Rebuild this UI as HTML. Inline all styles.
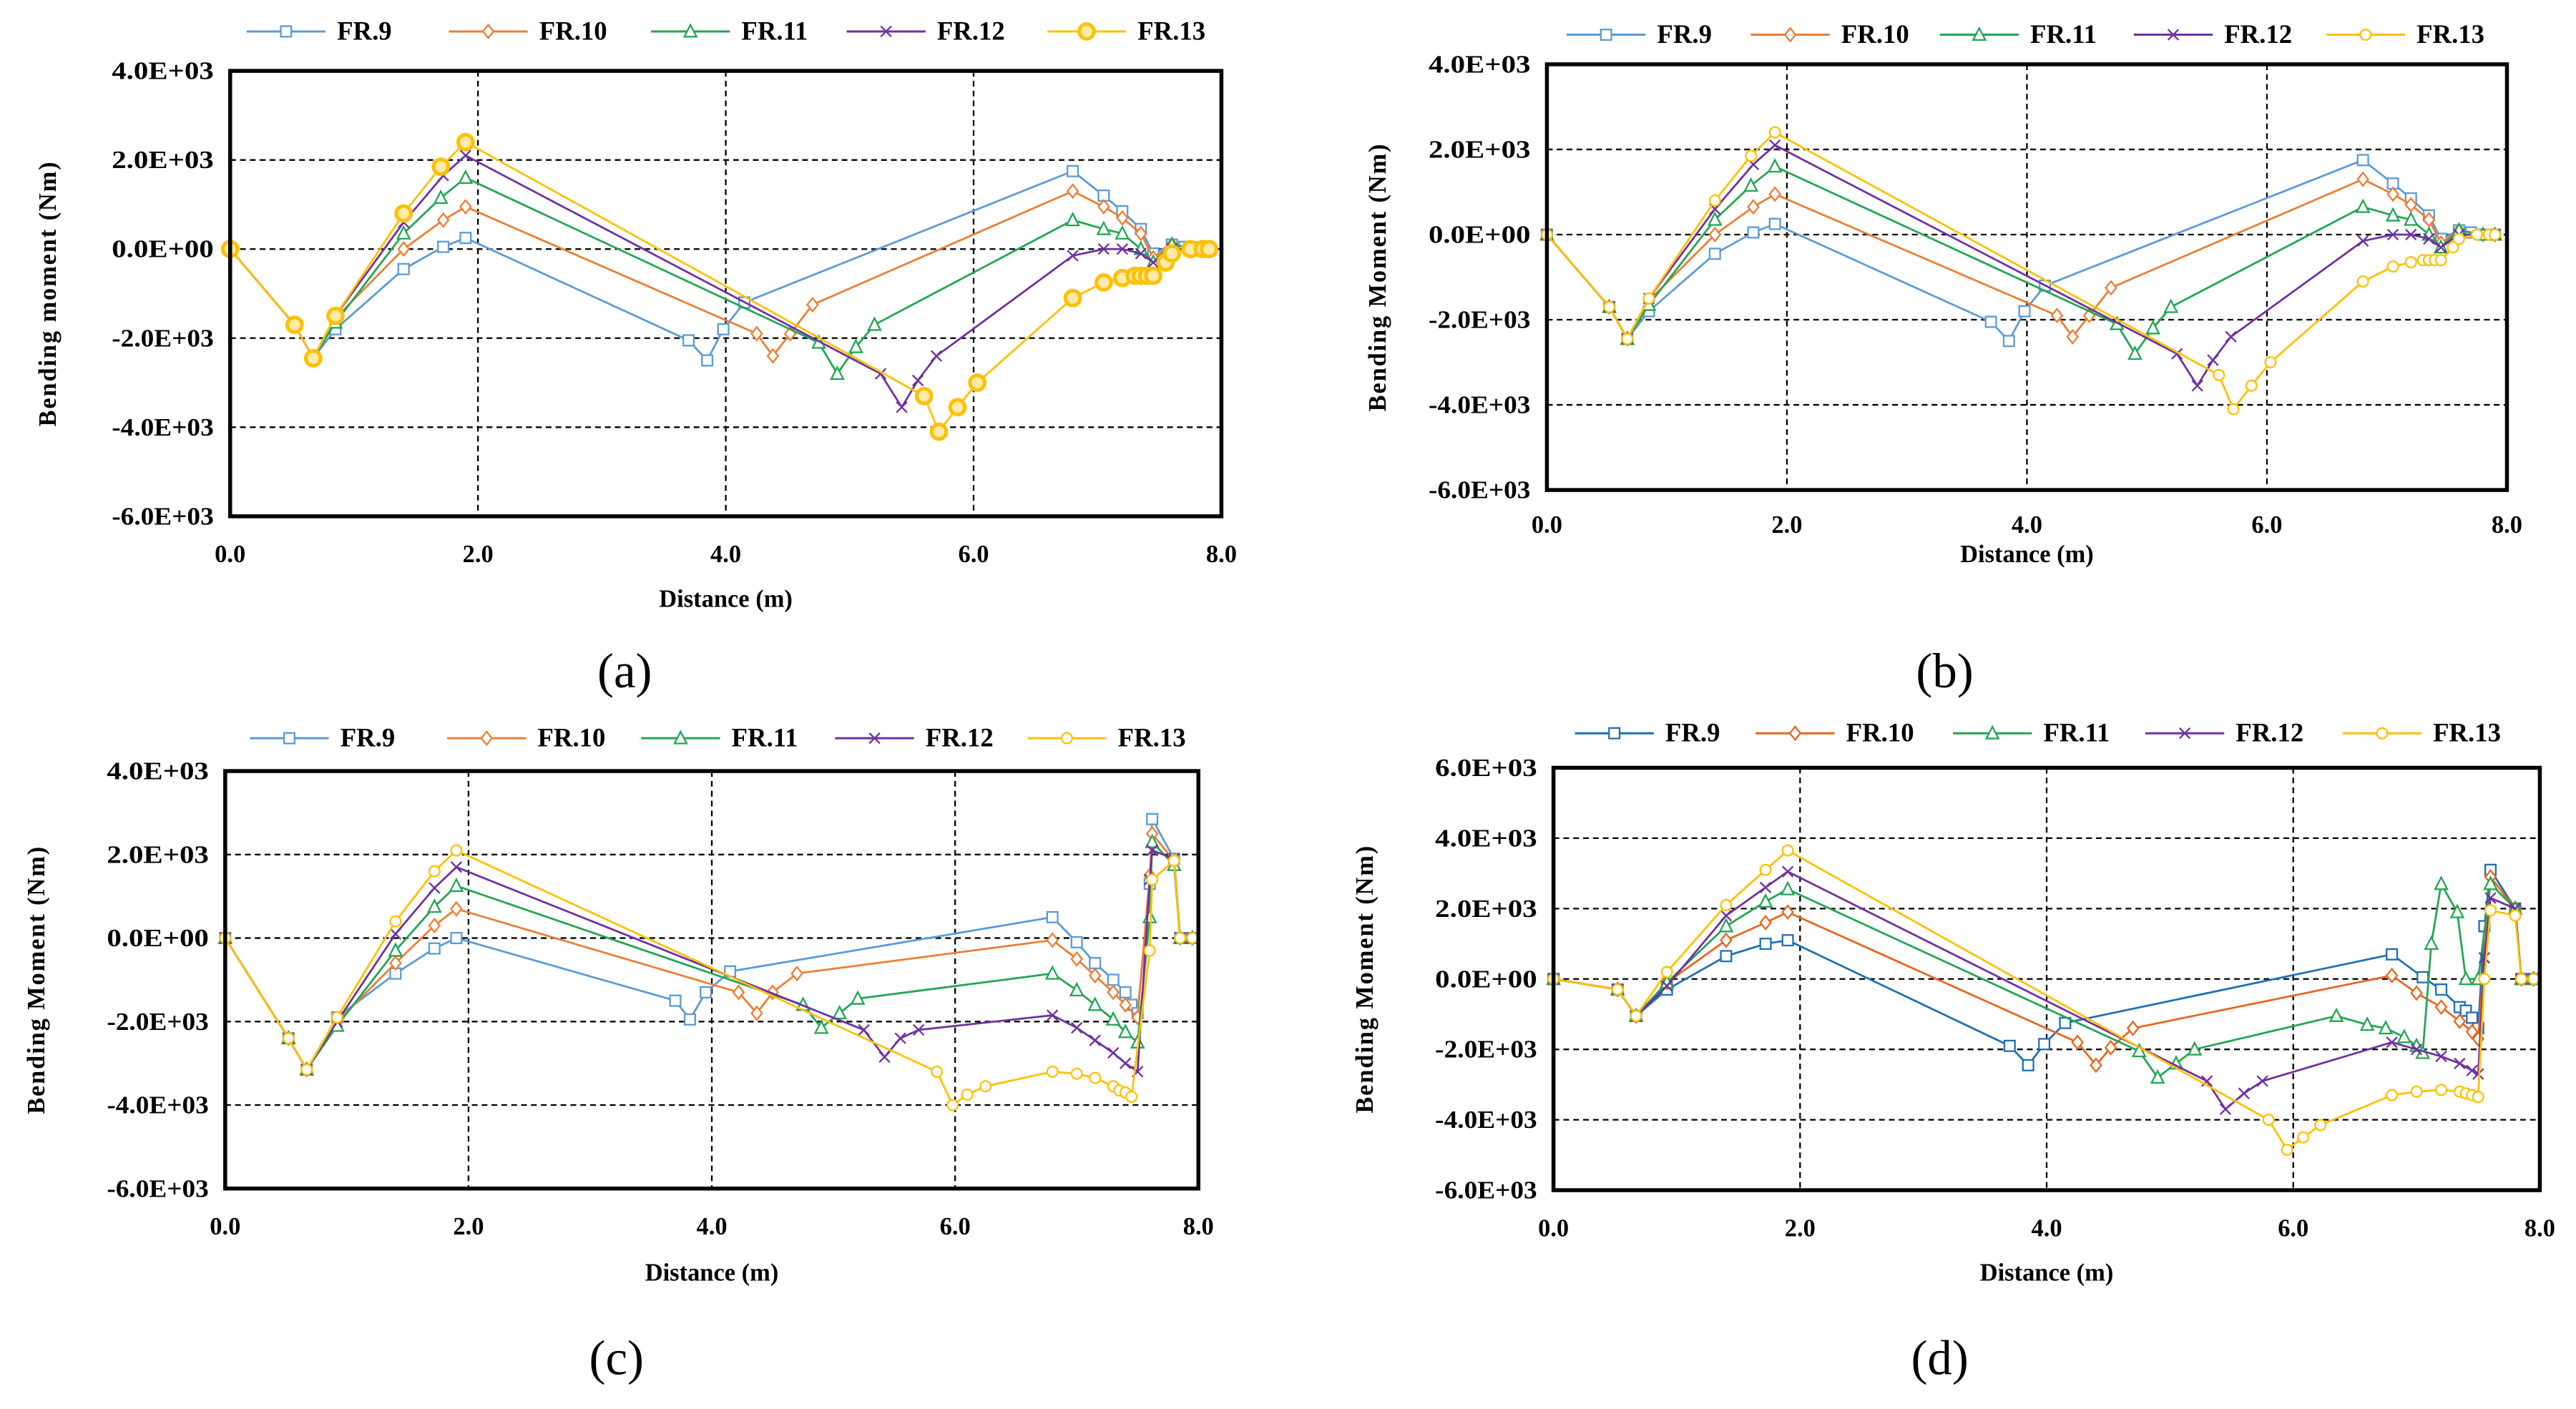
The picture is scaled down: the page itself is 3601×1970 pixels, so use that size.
<!DOCTYPE html>
<html><head><meta charset="utf-8"><style>
html,body{margin:0;padding:0;background:#fff;}
svg{display:block;}
svg text{font-family:"Liberation Serif","DejaVu Serif",serif;font-weight:bold;fill:#000;}
svg text.cap{font-weight:normal;}
</style></head><body>
<svg id="fig" width="3601" height="1970" viewBox="0 0 1567 857" xmlns="http://www.w3.org/2000/svg" font-family="Liberation Serif, serif"></svg>
<script>
// Shared x positions and series values (Nm)
const seriesNames = ["FR.9","FR.10","FR.11","FR.12","FR.13"];
const xTickLabels = ["0.0","2.0","4.0","6.0","8.0"];
const xTickValues = [0,2,4,6,8];

// Panel (a) data
const a_fr9 = [[0,0],[0.52,-1700],[0.67,-2450],[0.85,-1800],[1.4,-450],[1.72,50],[1.9,250],[3.7,-2050],[3.85,-2500],[3.98,-1800],[4.15,-1200],[6.8,1750],[7.05,1200],[7.2,850],[7.35,450],[7.45,-100],[7.6,100],[7.7,50],[7.8,0],[7.9,0]];
const a_fr10 = [[0,0],[0.52,-1700],[0.67,-2450],[0.85,-1550],[1.4,0],[1.72,650],[1.9,950],[4.25,-1900],[4.38,-2400],[4.52,-1900],[4.7,-1250],[6.8,1300],[7.05,950],[7.2,700],[7.35,350],[7.45,-200],[7.6,100],[7.8,0],[7.9,0]];
const a_fr11 = [[0,0],[0.52,-1700],[0.67,-2450],[0.85,-1650],[1.4,350],[1.7,1150],[1.9,1600],[4.75,-2100],[4.9,-2800],[5.05,-2200],[5.2,-1700],[6.8,650],[7.05,450],[7.2,350],[7.35,0],[7.45,-300],[7.6,100],[7.8,0],[7.9,0]];
const a_fr12 = [[0,0],[0.52,-1700],[0.67,-2450],[0.85,-1500],[1.4,600],[1.72,1650],[1.9,2100],[5.25,-2800],[5.42,-3550],[5.55,-2950],[5.7,-2400],[6.8,-150],[7.05,0],[7.2,0],[7.35,-100],[7.45,-300],[7.6,0],[7.8,0],[7.9,0]];
const a_fr13 = [[0,0],[0.52,-1700],[0.67,-2450],[0.85,-1500],[1.4,800],[1.7,1850],[1.9,2400],[5.6,-3300],[5.72,-4100],[5.87,-3550],[6.03,-3000],[6.8,-1100],[7.05,-750],[7.2,-650],[7.3,-600],[7.35,-600],[7.4,-600],[7.45,-600],[7.55,-300],[7.6,-100],[7.75,0],[7.85,0],[7.9,0]];

// Panel (c) data
const c_fr9 = [[0,0],[0.52,-2400],[0.67,-3150],[0.92,-1900],[1.4,-850],[1.72,-250],[1.9,0],[3.7,-1500],[3.82,-1950],[3.95,-1300],[4.15,-800],[6.8,500],[7.0,-100],[7.15,-600],[7.3,-1000],[7.4,-1300],[7.45,-1600],[7.5,-1800],[7.6,1300],[7.62,2850],[7.8,1900],[7.85,0],[7.95,0]];
const c_fr10 = [[0,0],[0.52,-2400],[0.67,-3150],[0.92,-2000],[1.4,-600],[1.72,300],[1.9,700],[4.22,-1300],[4.37,-1800],[4.5,-1300],[4.7,-850],[6.8,-50],[7.0,-500],[7.15,-900],[7.3,-1300],[7.4,-1600],[7.5,-1900],[7.6,1500],[7.62,2500],[7.8,1850],[7.85,0],[7.95,0]];
const c_fr11 = [[0,0],[0.52,-2400],[0.67,-3150],[0.92,-2100],[1.4,-300],[1.72,750],[1.9,1250],[4.75,-1600],[4.9,-2150],[5.05,-1800],[5.2,-1450],[6.8,-850],[7.0,-1250],[7.15,-1600],[7.3,-1950],[7.4,-2250],[7.5,-2500],[7.6,500],[7.62,2300],[7.8,1750],[7.85,0],[7.95,0]];
const c_fr12 = [[0,0],[0.52,-2400],[0.67,-3150],[0.92,-2000],[1.4,100],[1.72,1200],[1.9,1700],[5.25,-2200],[5.42,-2850],[5.55,-2400],[5.7,-2200],[6.8,-1850],[7.0,-2150],[7.15,-2450],[7.3,-2750],[7.4,-3000],[7.5,-3200],[7.6,1400],[7.62,2100],[7.8,1900],[7.85,0],[7.95,0]];
const c_fr13 = [[0,0],[0.52,-2400],[0.67,-3150],[0.92,-1900],[1.4,400],[1.72,1600],[1.9,2100],[5.85,-3200],[5.98,-4000],[6.1,-3750],[6.25,-3550],[6.8,-3200],[7.0,-3250],[7.15,-3350],[7.3,-3550],[7.35,-3650],[7.4,-3700],[7.45,-3800],[7.6,-300],[7.62,1400],[7.8,1850],[7.85,0],[7.95,0]];

// Panel (d) data
const d_fr9 = [[0,0],[0.52,-300],[0.67,-1050],[0.92,-300],[1.4,650],[1.72,1000],[1.9,1100],[3.7,-1900],[3.85,-2450],[3.98,-1850],[4.15,-1250],[6.8,700],[7.05,50],[7.2,-300],[7.35,-800],[7.4,-900],[7.45,-1100],[7.5,-1400],[7.55,1500],[7.6,3100],[7.8,2000],[7.85,0],[7.95,0]];
const d_fr10 = [[0,0],[0.52,-300],[0.67,-1050],[0.92,-100],[1.4,1100],[1.72,1600],[1.9,1900],[4.25,-1800],[4.4,-2450],[4.52,-1950],[4.7,-1400],[6.8,100],[7.0,-400],[7.2,-800],[7.35,-1200],[7.45,-1500],[7.5,-1700],[7.6,2900],[7.8,2000],[7.85,0],[7.95,0]];
const d_fr11 = [[0,0],[0.52,-300],[0.67,-1050],[0.92,-100],[1.4,1500],[1.72,2200],[1.9,2550],[4.75,-2050],[4.9,-2800],[5.05,-2400],[5.2,-2000],[6.35,-1050],[6.6,-1300],[6.75,-1400],[6.9,-1650],[7.0,-1900],[7.05,-2100],[7.12,1000],[7.2,2700],[7.33,1900],[7.4,0],[7.5,0],[7.6,2700],[7.8,2000],[7.85,0],[7.95,0]];
const d_fr12 = [[0,0],[0.52,-300],[0.67,-1050],[0.92,-200],[1.4,1800],[1.72,2600],[1.9,3050],[5.3,-2900],[5.45,-3700],[5.6,-3250],[5.75,-2900],[6.8,-1800],[7.0,-2000],[7.2,-2200],[7.35,-2400],[7.45,-2600],[7.5,-2700],[7.55,600],[7.6,2300],[7.8,2000],[7.85,0],[7.95,0]];
const d_fr13 = [[0,0],[0.52,-300],[0.67,-1050],[0.92,200],[1.4,2100],[1.72,3100],[1.9,3650],[5.8,-4000],[5.95,-4850],[6.08,-4500],[6.22,-4150],[6.8,-3300],[7.0,-3200],[7.2,-3150],[7.35,-3200],[7.4,-3250],[7.45,-3300],[7.5,-3350],[7.55,0],[7.6,1950],[7.8,1800],[7.85,0],[7.95,0]];

const yTicksA = [4000,2000,0,-2000,-4000,-6000];
const yTicksD = [6000,4000,2000,0,-2000,-4000,-6000];

const NS="http://www.w3.org/2000/svg";
const svg=document.getElementById('fig');
function mk(tag,attrs,parent){const e=document.createElementNS(NS,tag);for(const k in attrs)e.setAttribute(k,attrs[k]);(parent||svg).appendChild(e);return e;}
function fmtE(v){if(v===0)return "0.0E+00";const s=v<0?"-":"";return s+(Math.abs(v)/1000).toFixed(1)+"E+03";}

function marker(g,type,x,y,color,big){
  const r=big?4.5:3.2;let m;
  if(type===0) m=mk('rect',{x:x-r,y:y-r,width:2*r,height:2*r,fill:'#fff',stroke:color,'stroke-width':1},g);
  else if(type===1) m=mk('polygon',{points:`${x},${y-r-0.8} ${x+r},${y} ${x},${y+r+0.8} ${x-r},${y}`,fill:'#fff',stroke:color,'stroke-width':1},g);
  else if(type===2) m=mk('polygon',{points:`${x},${y-r-0.8} ${x+r+0.5},${y+r} ${x-r-0.5},${y+r}`,fill:'#fff',stroke:color,'stroke-width':1},g);
  else if(type===3) m=mk('path',{d:`M${x-r},${y-r}L${x+r},${y+r}M${x-r},${y+r}L${x+r},${y-r}`,fill:'none',stroke:color,'stroke-width':1},g);
  else m=mk('circle',{cx:x,cy:y,r:r,fill:big?'#fde9a8':'#fff',stroke:color,'stroke-width':big?2.2:1},g);
  
  
}

function panel(cfg){
  const g=mk('g',{});
  
  
  const {x0,x1,yTop,yBot,ticks}=cfg;
  const ymax=ticks[0],ymin=ticks[ticks.length-1];
  const sx=v=>x0+(v-0)/(8-0)*(x1-x0);
  const sy=v=>yTop+(ymax-v)/(ymax-ymin)*(yBot-yTop);
  ticks.forEach(t=>{if(t===ymax||t===ymin)return;const l=mk('line',{x1:x0,x2:x1,y1:sy(t),y2:sy(t),stroke:'#000','stroke-width':1,'stroke-dasharray':'3.5,2.5'},g);});
  xTickValues.forEach(t=>{if(t===0||t===8)return;const l=mk('line',{x1:sx(t),x2:sx(t),y1:yTop,y2:yBot,stroke:'#000','stroke-width':1,'stroke-dasharray':'3.5,2.5'},g);});
  cfg.series.forEach((s,i)=>{
    const sg=mk('g',{},g);
    
    
    const pl=mk('polyline',{points:s.map(p=>sx(p[0])+','+sy(p[1])).join(' '),fill:'none',stroke:cfg.colors[i],'stroke-width':1.2,'stroke-linejoin':'round'},sg);
    
    
    s.forEach(p=>marker(sg,i,sx(p[0]),sy(p[1]),cfg.colors[i],cfg.bigLast&&i===4));
  });
  const fr=mk('rect',{x:x0,y:yTop,width:x1-x0,height:yBot-yTop,fill:'none',stroke:'#000','stroke-width':2.4},g);
  
  ticks.forEach(t=>{const tx=mk('text',{x:x0-10,y:sy(t)+5,'text-anchor':'end','font-size':15,'textLength':62,'lengthAdjust':'spacingAndGlyphs'},g);tx.textContent=fmtE(t);});
  xTickValues.forEach((t,i)=>{const tx=mk('text',{x:sx(t),y:cfg.xLabY,'text-anchor':'middle','font-size':15},g);tx.textContent=xTickLabels[i];});
  const xt=mk('text',{x:(x0+x1)/2,y:cfg.xTitleY,'text-anchor':'middle','font-size':15},g);xt.textContent='Distance (m)';
  
  const yt=mk('text',{x:0,y:0,'text-anchor':'middle','font-size':15,'letter-spacing':'0.8',transform:`translate(${cfg.yTitleX},${(yTop+yBot)/2}) rotate(-90)`},g);yt.textContent=cfg.yTitle;
  
  const lg=mk('g',{},g);
  cfg.legX.forEach((lx,i)=>{
    const eg=mk('g',{},lg);
    mk('line',{x1:lx,x2:lx+48,y1:cfg.legY,y2:cfg.legY,stroke:cfg.colors[i],'stroke-width':1.3},eg);
    marker(eg,i,lx+24,cfg.legY,cfg.colors[i],cfg.bigLast&&i===4);
    const t=mk('text',{x:lx+55,y:cfg.legY+5,'font-size':16},eg);t.textContent=seriesNames[i];
  });
  const cap=mk('text',{x:cfg.capX,y:cfg.capY,'text-anchor':'middle','font-size':30,'class':'cap'},g);cap.textContent=cfg.cap;
  
}
const colsL=['#5B9BD5','#ED7D31','#21A652','#7030A0','#FFC000'];
const colsD=['#1F6FB5','#E8651E','#21A652','#7030A0','#FFC000'];
panel({id:'a',x0:140,x1:743,yTop:43,yBot:314,ticks:yTicksA,series:[a_fr9,a_fr10,a_fr11,a_fr12,a_fr13],colors:colsL,bigLast:true,xLabY:342,xTitleY:369,yTitleX:34,yTitle:'Bending moment (Nm)',legX:[150,273,396,515,637],legY:19,cap:'(a)',capX:380,capY:418});
panel({id:'b',x0:941,x1:1525,yTop:39,yBot:298,ticks:yTicksA,series:[a_fr9,a_fr10,a_fr11,a_fr12,a_fr13],colors:colsL,bigLast:false,xLabY:324,xTitleY:342,yTitleX:843,yTitle:'Bending Moment (Nm)',legX:[953,1065,1180,1298,1415],legY:21,cap:'(b)',capX:1183,capY:418});
panel({id:'c',x0:137,x1:729,yTop:469,yBot:723,ticks:yTicksA,series:[c_fr9,c_fr10,c_fr11,c_fr12,c_fr13],colors:colsL,bigLast:false,xLabY:751,xTitleY:779,yTitleX:27,yTitle:'Bending Moment (Nm)',legX:[152,272,390,508,625],legY:449,cap:'(c)',capX:375,capY:836});
panel({id:'d',x0:945,x1:1545,yTop:467,yBot:724,ticks:yTicksD,series:[d_fr9,d_fr10,d_fr11,d_fr12,d_fr13],colors:colsD,bigLast:false,xLabY:752,xTitleY:779,yTitleX:835,yTitle:'Bending Moment (Nm)',legX:[958,1068,1188,1305,1425],legY:446,cap:'(d)',capX:1180,capY:836});
</script>
</body></html>
